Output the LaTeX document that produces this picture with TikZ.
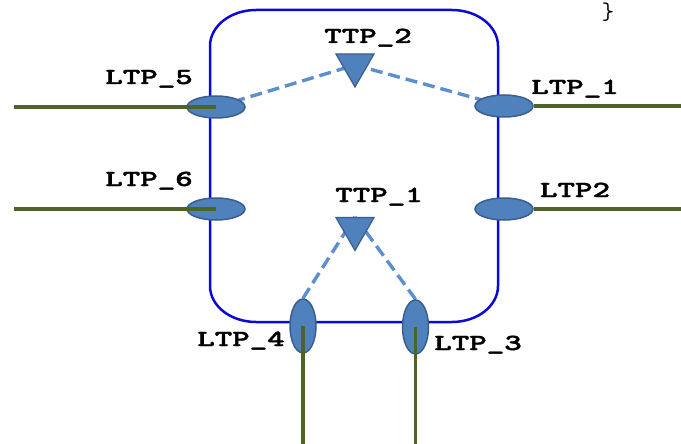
\documentclass[tikz,border=0pt]{standalone}
\usepackage{fontspec}
\newfontfamily\lblfont{lmmonolt10-bold.otf}[FakeBold=1.6]
\usetikzlibrary{shapes.geometric,backgrounds,calc}
\definecolor{frameblue}{RGB}{10,10,215}
\definecolor{portfill}{HTML}{4F81BD}
\definecolor{portline}{HTML}{3A5F8C}
\definecolor{dashblue}{HTML}{5B8FCF}
\definecolor{wire}{HTML}{4F6228}
\tikzset{
  hport/.style={ellipse,draw=portline,fill=portfill,line width=1.5pt,minimum width=58pt,minimum height=22pt,inner sep=0pt},
  vport/.style={ellipse,draw=portline,fill=portfill,line width=1.5pt,minimum width=26pt,minimum height=54pt,inner sep=0pt},
  ttp/.style={regular polygon,regular polygon sides=3,shape border rotate=180,draw=portline,fill=portfill,line width=1.2pt,minimum size=44pt,inner sep=0pt},
  lbl/.style={font=\fontsize{23}{23}\selectfont\lblfont,inner sep=0pt,anchor=base},
  wireline/.style={draw=wire,line width=3.5pt},
  dashline/.style={draw=dashblue,line width=3.4pt,dash pattern=on 12pt off 6pt},
  frame/.style={draw=frameblue,line width=2.5pt}
}
\newcommand{\wide}[1]{\scalebox{1.45}[1]{#1}}
\begin{document}
\begin{tikzpicture}[x=1pt,y=-1pt]
\clip (0,0) rectangle (681,444);
\useasboundingbox (0,0) rectangle (681,444);
% ports
\node[hport] (ltp5) at (216,107) {};
\node[hport] (ltp1) at (504,106) {};
\node[hport] (ltp6) at (216,209) {};
\node[hport] (ltp2) at (504,209) {};
\node[vport] (ltp4) at (303,326) {};
\node[vport] (ltp3) at (415.5,327) {};
\node[ttp] (ttp2) at (355,65) {};
\node[ttp] (ttp1) at (355,228.5) {};
% frame and dashed links behind
\begin{scope}[on background layer]
\draw[frame] (256,10) -- (452,10)
  arc[start angle=-90,end angle=0,x radius=46,y radius=36] -- (498,286)
  arc[start angle=0,end angle=90,x radius=46,y radius=36] -- (256,322)
  arc[start angle=90,end angle=180,x radius=46,y radius=36] -- (210,46)
  arc[start angle=180,end angle=270,x radius=46,y radius=36] -- cycle;
\draw[dashline] (ltp5.center) -- (ttp2.center);
\draw[dashline] (ltp1.center) -- (ttp2.center);
\draw[dashline] (ltp4.north) -- (ttp1.north);
\draw[dashline] (ltp3.north) -- (ttp1.north);
\end{scope}
% wires
\coordinate (w5) at (14,107);
\coordinate (w6) at (14,209);
\coordinate (w1) at (681,106);
\coordinate (w2) at (681,209);
\coordinate (w4) at (303,444);
\coordinate (w3) at (415.5,444);
\draw[wireline] (w5) -- (ltp5.center);
\draw[wireline] (w6) -- (ltp6.center);
\draw[wireline] (ltp1.east) -- (w1);
\draw[wireline] (ltp2.east) -- (w2);
\draw[wireline] (ltp4.center) -- (w4);
\draw[wireline] (ltp3.center) -- (w3);
% labels
\node[lbl] (lttp2) at (368,43) {\wide{TTP\_2}};
\node[lbl] (lltp5) at (149,84) {\wide{LTP\_5}};
\node[lbl] (lltp1) at (575,94) {\wide{LTP\_1}};
\node[lbl] (lltp6) at (149,186) {\wide{LTP\_6}};
\node[lbl] (lltp2) at (575,197) {\wide{LTP2}};
\node[lbl] (lttp1) at (379,202) {\wide{TTP\_1}};
\node[lbl] (lltp4) at (241,346) {\wide{LTP\_4}};
\node[lbl] (lltp3) at (478,350) {\wide{LTP\_3}};
\node[font=\fontsize{24}{24}\selectfont\ttfamily,inner sep=0pt,anchor=north] (brace) at (608,3) {\}};
\end{tikzpicture}
\end{document}
